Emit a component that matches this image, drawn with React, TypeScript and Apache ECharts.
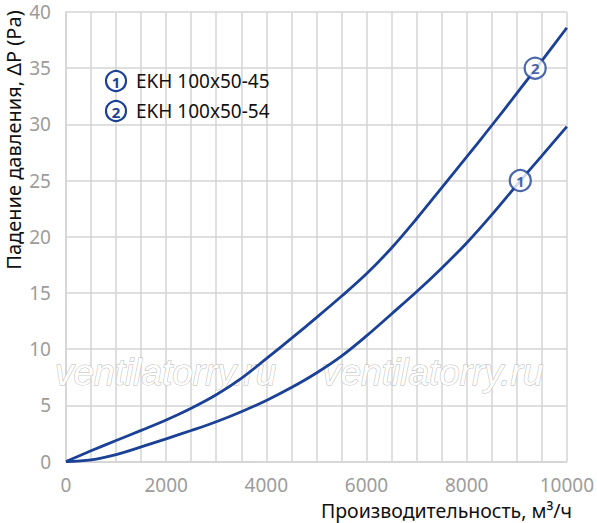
import React, { useEffect, useRef } from "react";
import * as echarts from "echarts";

const flowX = [0, 500, 1000, 1500, 2000, 2500, 3000, 3500, 4000, 4500, 5000, 5500, 6000, 6500, 7000, 7500, 8000, 8500, 9000, 9500, 10000];
const series1Values = [0, 0.15, 0.62, 1.3, 2.02, 2.76, 3.54, 4.43, 5.43, 6.58, 7.88, 9.38, 11.18, 13.13, 15.1, 17.2, 19.45, 21.95, 24.6, 27.2, 29.8];
const series2Values = [0, 0.95, 1.87, 2.77, 3.69, 4.74, 5.94, 7.4, 9.15, 10.95, 12.8, 14.7, 16.7, 19.0, 21.6, 24.35, 27.1, 29.9, 32.75, 35.65, 38.6];
const seriesNames = ["EKH 100x50-45", "EKH 100x50-54"];
const markerLabels = ["1", "2"];
const marker1 = [9071, 25];
const marker2 = [9368, 35];
const xTickLabels = [0, 2000, 4000, 6000, 8000, 10000];

const BLUE = "#1b4196";
const FONT = "'Noto Sans', 'Open Sans', sans-serif";

export default function App() {
  const ref = useRef<HTMLDivElement>(null);
  useEffect(() => {
    document.body.style.margin = "0";
    const chart = echarts.init(ref.current!, null, { renderer: "svg" });
    const toPairs = (ys: number[]) => flowX.map((x, i) => [x, ys[i]]);
    const markerSeries = (pt: number[], label: string) => ({
      type: "scatter",
      data: [pt],
      symbol: "circle",
      symbolSize: 21,
      z: 5,
      itemStyle: { color: "#fff", borderColor: BLUE, borderWidth: 2.2 },
      label: {
        show: true,
        position: "inside",
        formatter: label,
        color: BLUE,
        fontSize: 15,
        fontWeight: "bold",
        fontFamily: FONT,
      },
    });
    const legendItem = (y: number, num: string, name: string) => [
      {
        type: "circle",
        z: 10,
        shape: { cx: 116, cy: y, r: 10 },
        style: { fill: "#fff", stroke: BLUE, lineWidth: 2.2 },
      },
      {
        type: "text",
        z: 11,
        x: 116,
        y: y + 0.5,
        style: { text: num, fill: BLUE, font: `bold 15px ${FONT}`, align: "center", verticalAlign: "middle" },
      },
      {
        type: "text",
        z: 10,
        x: 136,
        y: y,
        style: { text: name, fill: "#111", font: `19px ${FONT}`, align: "left", verticalAlign: "middle" },
      },
    ];
    const watermark = (x: number) => ({
      type: "text",
      x,
      y: 354,
      z: 1,
      style: {
        text: "ventilatorry.ru",
        fill: "#ffffff",
        stroke: "#b8b8b8",
        lineWidth: 1,
        font: "italic 37px 'Liberation Sans', Arial, sans-serif",
        align: "left",
        verticalAlign: "alphabetic",
      },
    });
    chart.setOption({
      animation: false,
      backgroundColor: "#fff",
      grid: { left: 66, right: 25, top: 12, bottom: 61.5, containLabel: false },
      xAxis: {
        type: "value",
        min: 0,
        max: 10000,
        interval: 500,
        axisLine: { show: true, lineStyle: { color: "#d4d4d4", width: 1.5 } },
        axisTick: { show: false },
        splitLine: { show: true, lineStyle: { color: "#d4d4d4", width: 1.5 } },
        axisLabel: {
          color: "#9c9c9c",
          fontSize: 19,
          fontFamily: FONT,
          margin: 14,
          formatter: (v: number) => (xTickLabels.includes(v) ? String(v) : ""),
        },
      },
      yAxis: {
        type: "value",
        min: 0,
        max: 40,
        interval: 5,
        axisLine: { show: true, lineStyle: { color: "#d4d4d4", width: 1.5 } },
        axisTick: { show: false },
        splitLine: { show: true, lineStyle: { color: "#d4d4d4", width: 1.5 } },
        axisLabel: { color: "#9c9c9c", fontSize: 19, fontFamily: FONT, margin: 15 },
      },
      graphic: [
        watermark(55),
        watermark(322),
        ...legendItem(81, markerLabels[0], seriesNames[0]),
        ...legendItem(111, markerLabels[1], seriesNames[1]),
        {
          type: "text",
          x: 572,
          y: 510,
          style: {
            text: "Производительность, м³/ч",
            fill: "#111",
            font: `19.5px ${FONT}`,
            align: "right",
            verticalAlign: "middle",
          },
        },
        {
          type: "text",
          x: 13,
          y: 140,
          rotation: Math.PI / 2,
          style: {
            text: "Падение давления, ΔP (Pa)",
            fill: "#111",
            font: `20px ${FONT}`,
            align: "center",
            verticalAlign: "middle",
          },
        },
      ],
      series: [
        {
          name: seriesNames[0],
          type: "line",
          smooth: 0.35,
          showSymbol: false,
          data: toPairs(series1Values),
          lineStyle: { color: BLUE, width: 2.8 },
          z: 3,
        },
        {
          name: seriesNames[1],
          type: "line",
          smooth: 0.35,
          showSymbol: false,
          data: toPairs(series2Values),
          lineStyle: { color: BLUE, width: 2.8 },
          z: 3,
        },
        markerSeries(marker1, markerLabels[0]),
        markerSeries(marker2, markerLabels[1]),
      ],
    });
    return () => chart.dispose();
  }, []);
  return <div ref={ref} style={{ width: 597, height: 523 }} />;
}
